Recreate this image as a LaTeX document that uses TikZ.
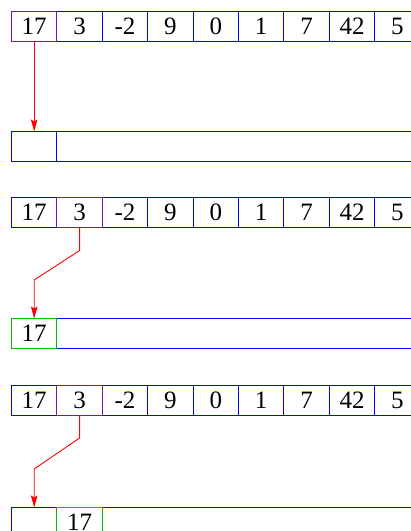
\documentclass[tikz,border=0pt]{standalone}
\usepackage{fontspec}
\setmainfont{Liberation Serif}
\usetikzlibrary{arrows.meta,calc}
\definecolor{hlc}{RGB}{105,25,190}
\definecolor{grc}{RGB}{0,185,0}
\begin{document}
\begin{tikzpicture}[x=1pt,y=-1pt,
  cell/.style={draw=blue,line width=1.1pt,minimum width=45.4pt,minimum height=30pt,
    inner sep=0pt,outer sep=0pt,font=\fontsize{25}{25}\selectfont,anchor=north west},
  longcell/.style={cell,minimum width=420pt},
  hlbox/.style={draw=hlc,line width=1.1pt},
  grcell/.style={cell,draw=grc},
  arr/.style={draw=red,line width=0.9pt,-{Stealth[length=12pt,width=6.5pt,inset=2pt]}}]
\useasboundingbox (0,0) rectangle (411,531);
\clip (0,0) rectangle (411,531);
% row 1
\foreach \v [count=\i] in {17,3,-2,9,0,1,7,42,5}
  \node[cell] (a\i) at ({11.5+(\i-1)*45.4},11.5) {\v};
\draw[hlbox] (a1.north west) rectangle (a1.south east);
\node[cell,minimum height=30pt] (r1) at (11.5,131.5) {};
\node[longcell,minimum height=30pt] (r2) at (56.9,131.5) {};
\draw[arr] (a1.south) -- (r1.north);
% row 2
\foreach \v [count=\i] in {17,3,-2,9,0,1,7,42,5}
  \node[cell] (b\i) at ({11.5+(\i-1)*45.4},197.5) {\v};
\draw[hlbox] (b2.north west) rectangle (b2.south east);
\node[longcell,minimum height=30pt] (s2) at (56.9,318.5) {};
\node[grcell,minimum height=30pt] (s1) at (11.5,318.5) {17};
\draw[arr] (b2.south) -- ++(0,23) -- ($(s1.north)+(0,-38.5)$) -- (s1.north);
% row 3
\foreach \v [count=\i] in {17,3,-2,9,0,1,7,42,5}
  \node[cell] (c\i) at ({11.5+(\i-1)*45.4},385.5) {\v};
\draw[hlbox] (c2.north west) rectangle (c2.south east);
\node[cell,minimum height=30pt] (u1) at (11.5,507.5) {};
\node[longcell,minimum height=30pt] (u3) at (102.3,507.5) {};
\node[grcell,minimum height=30pt] (u2) at (56.9,507.5) {17};
\draw[arr] (c2.south) -- ++(0,22.5) -- ($(u1.north)+(0,-38.5)$) -- (u1.north);
\end{tikzpicture}
\end{document}
